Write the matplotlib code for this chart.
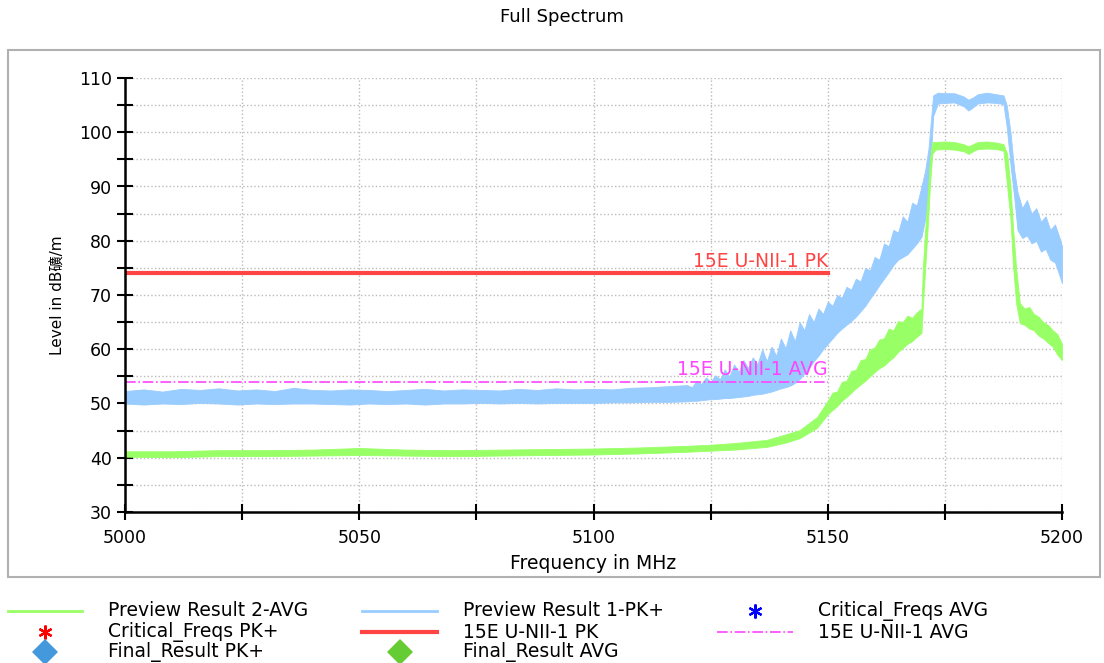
import numpy as np
import matplotlib.pyplot as plt
from matplotlib.lines import Line2D
from matplotlib.patches import Rectangle
from matplotlib.ticker import MultipleLocator

# Preview Result 1-PK+ : lower / upper envelope of the trace (MHz, dBuV/m)
pk_freq = [5000, 5004, 5008, 5012, 5016, 5020, 5024, 5028, 5032, 5036, 5040,
           5044, 5048, 5052, 5056, 5060, 5064, 5068, 5072, 5076, 5080, 5084,
           5088, 5092, 5096, 5100, 5104, 5108, 5112, 5116, 5120, 5121, 5122,
           5123, 5124, 5125, 5126, 5127, 5128, 5129, 5130, 5131, 5132, 5133,
           5134, 5135, 5136, 5137, 5138, 5139, 5140, 5141, 5142, 5143, 5144,
           5145, 5146, 5147, 5148, 5149, 5150, 5151, 5152, 5153, 5154, 5155,
           5156, 5157, 5158, 5159, 5160, 5161, 5162, 5163, 5164, 5165, 5166,
           5167, 5168, 5169, 5170, 5170.8, 5171.5, 5172.0, 5172.5, 5173.5,
           5175, 5177, 5179, 5180, 5181, 5182, 5184, 5186, 5187.5, 5188.2,
           5189, 5189.8, 5190.5, 5191.5, 5192.5, 5193.5, 5194.5, 5195.5,
           5196.5, 5197.5, 5198.5, 5199.5, 5200]
pk_lo = [50.0, 49.8, 50.0, 49.9, 50.1, 50.0, 49.8, 50.0, 49.9, 50.0, 50.0,
         49.9, 49.8, 50.0, 49.9, 50.0, 49.8, 50.0, 50.0, 50.1, 50.0, 50.1,
         50.0, 50.1, 50.1, 50.1, 50.2, 50.2, 50.3, 50.3, 50.4, 50.5, 50.5,
         50.6, 50.7, 50.8, 50.8, 50.9, 51.0, 51.0, 51.1, 51.2, 51.3, 51.4,
         51.6, 51.7, 51.8, 52.0, 52.2, 52.5, 52.8, 53.0, 53.3, 53.8, 54.5,
         55.5, 56.5, 57.8, 58.8, 60.0, 61.0, 62.0, 63.0, 63.8, 64.5, 65.2,
         66.0, 67.0, 68.0, 69.3, 70.5, 71.8, 73.0, 74.2, 75.5, 76.5, 77.0,
         77.5, 78.5, 79.5, 80.7, 84.0, 90.0, 95.0, 103.0, 105.3,
         105.4, 105.5, 104.8, 104.0, 104.6, 105.3, 105.5, 105.4, 105.2, 101.0,
         94.0, 88.0, 82.0, 80.5, 81.0, 79.5, 80.0, 78.0,
         78.5, 76.5, 76.0, 73.5, 72.2]
pk_hi = [52.3, 52.6, 52.2, 52.7, 52.5, 52.8, 52.4, 52.6, 52.3, 52.9, 52.5,
         52.4, 52.6, 52.5, 52.3, 52.5, 52.7, 52.4, 52.6, 52.5, 52.4, 52.7,
         52.5, 52.8, 52.6, 52.7, 52.6, 52.9, 53.0, 53.2, 53.4, 53.0, 54.2,
         53.6, 54.8, 54.0, 55.2, 54.5, 56.3, 55.0, 57.2, 55.8, 58.0, 56.5,
         58.5, 57.2, 60.0, 57.8, 60.5, 58.8, 62.0, 60.2, 63.5, 61.5, 65.0,
         63.5, 66.5, 65.0, 67.5, 66.5, 68.8, 68.0, 70.0, 69.5, 71.5, 71.0,
         73.0, 72.5, 75.0, 74.5, 77.0, 76.5, 79.5, 79.0, 82.0, 81.5, 84.5,
         83.5, 87.0, 86.5, 90.0, 93.0, 97.0, 102.0, 106.8, 107.3,
         107.2, 107.2, 106.6, 106.0, 106.4, 107.0, 107.3, 107.0, 106.8, 105.0,
         100.0, 93.0, 89.0, 86.0, 87.5, 85.0, 86.0, 83.5,
         84.5, 82.0, 83.0, 80.5, 79.0]

# Preview Result 2-AVG : lower / upper envelope of the trace
av_freq = [5000, 5010, 5020, 5030, 5040, 5050, 5060, 5070, 5080, 5090, 5100,
           5110, 5120, 5125, 5130, 5137, 5141, 5144, 5147.7, 5150, 5151,
           5152, 5153, 5154, 5155, 5156, 5157, 5158, 5159, 5160, 5161, 5162,
           5163, 5164, 5165, 5166, 5167, 5168, 5169, 5170, 5170.3,
           5170.8, 5171.3, 5171.8, 5172.3, 5173, 5175, 5177, 5179, 5180,
           5181, 5182, 5184, 5186, 5187.5, 5188.3, 5189, 5189.5, 5190.2,
           5191, 5192, 5193, 5194, 5195, 5196, 5197, 5198, 5199, 5200]
av_lo = [40.2, 40.1, 40.3, 40.3, 40.4, 40.5, 40.4, 40.3, 40.4, 40.5, 40.6,
         40.8, 41.1, 41.3, 41.5, 42.0, 42.8, 43.6, 45.5, 48.0, 48.8,
         49.5, 50.5, 51.2, 52.0, 52.8, 53.5, 54.2, 55.0, 55.8, 56.5, 57.0,
         57.8, 58.5, 59.5, 60.2, 61.0, 61.5, 62.3, 63.0, 68.0,
         75.0, 82.0, 90.0, 96.0, 96.8, 96.9, 96.8, 96.5, 96.0,
         96.5, 96.9, 97.0, 96.9, 96.6, 90.0, 84.0, 76.0, 68.5,
         64.8, 64.5, 63.8, 63.5, 62.5, 62.0, 61.2, 60.5, 59.0, 58.0]
av_hi = [41.2, 41.2, 41.4, 41.4, 41.5, 41.8, 41.5, 41.4, 41.5, 41.6, 41.7,
         41.9, 42.2, 42.4, 42.7, 43.3, 44.3, 45.1, 47.5, 50.5, 52.0,
         52.2, 54.0, 54.2, 56.0, 56.2, 58.0, 58.2, 60.0, 60.3, 61.8, 62.0,
         63.8, 63.5, 65.2, 65.0, 66.2, 65.8, 66.8, 67.5, 75.0,
         82.0, 88.0, 95.0, 98.2, 98.2, 98.3, 98.2, 97.8, 97.4,
         97.8, 98.2, 98.3, 98.1, 97.8, 96.0, 90.0, 83.0, 75.0,
         68.5, 67.5, 67.8, 66.5, 66.0, 65.0, 64.5, 63.5, 62.8, 61.0]

# limit lines
limit_freq = [5000, 5150]
limit_pk = [74, 74]
limit_avg = [54, 54]

BLUE = '#99ccff'
GREEN = '#99ff66'
RED = '#ff4444'
MAGENTA = '#ff44ff'

plt.rcParams['font.family'] = ['DejaVu Sans', 'Noto Sans CJK SC']

fig = plt.figure(figsize=(11.04, 6.63), dpi=100)
fig.patches.append(Rectangle((8 / 1104, 1 - 577 / 663), 1092 / 1104, 527 / 663,
                             transform=fig.transFigure, fill=False,
                             edgecolor='#b0b0b0', linewidth=1.5))

ax = fig.add_axes([125 / 1104, 1 - 512 / 663, 937 / 1104, 434 / 663])

ax.fill_between(pk_freq, pk_lo, pk_hi, color=BLUE, linewidth=0.6, edgecolor=BLUE)
ax.fill_between(av_freq, av_lo, av_hi, color=GREEN, linewidth=0.6, edgecolor=GREEN)

ax.plot(limit_freq, limit_pk, color=RED, linewidth=3)
ax.plot(limit_freq, limit_avg, color=MAGENTA, linewidth=1.2, linestyle='-.')
ax.text(5150, 74.5, '15E U-NII-1 PK', color=RED, ha='right', va='bottom', fontsize=13.5)
ax.text(5150, 54.5, '15E U-NII-1 AVG', color=MAGENTA, ha='right', va='bottom', fontsize=13.5)

ax.set_xlim(5000, 5200)
ax.set_ylim(30, 110)
ax.xaxis.set_major_locator(MultipleLocator(50))
ax.xaxis.set_minor_locator(MultipleLocator(25))
ax.yaxis.set_major_locator(MultipleLocator(10))
ax.yaxis.set_minor_locator(MultipleLocator(5))
ax.grid(True, which='both', color='#bbbbbb', linestyle=':', linewidth=1)
ax.set_axisbelow(True)
ax.tick_params(which='both', direction='inout', length=12, width=1.5, labelsize=12.5)
ax.tick_params(axis='x', pad=6)
for s in ['top', 'right']:
    ax.spines[s].set_visible(False)
for s in ['left', 'bottom']:
    ax.spines[s].set_linewidth(1.8)

ax.set_xlabel('Frequency in MHz', fontsize=13.5, labelpad=5)
ax.set_ylabel('Level in dB礦/m', fontsize=11, labelpad=10)
fig.text(562 / 1104, 1 - 17 / 663, 'Full Spectrum', ha='center', va='center', fontsize=13)

# legend below the plot frame, three columns
rows = [1 - 611 / 663, 1 - 632 / 663, 1 - 652 / 663]
star = (6, 2, 0)
entries = [
    (0, 0, 'line', dict(color=GREEN, linewidth=2), 'Preview Result 2-AVG'),
    (0, 1, 'marker', dict(marker=star, color='red', markersize=10, markeredgewidth=1.6), 'Critical_Freqs PK+'),
    (0, 2, 'marker', dict(marker='D', color='#4499dd', markersize=13, markeredgewidth=0), 'Final_Result PK+'),
    (1, 0, 'line', dict(color=BLUE, linewidth=2), 'Preview Result 1-PK+'),
    (1, 1, 'line', dict(color=RED, linewidth=3), '15E U-NII-1 PK'),
    (1, 2, 'marker', dict(marker='D', color='#66cc33', markersize=13, markeredgewidth=0), 'Final_Result AVG'),
    (2, 0, 'marker', dict(marker=star, color='blue', markersize=10, markeredgewidth=1.6), 'Critical_Freqs AVG'),
    (2, 1, 'line', dict(color=MAGENTA, linewidth=1.2, linestyle='-.'), '15E U-NII-1 AVG'),
]
handle_x = [(8, 82), (362, 437), (717, 793)]
text_x = [108, 463, 818]
for col, row, kind, style, label in entries:
    x0, x1 = handle_x[col]
    y = rows[row]
    if kind == 'line':
        fig.add_artist(Line2D([x0 / 1104, x1 / 1104], [y, y], transform=fig.transFigure, **style))
    else:
        xm = (x0 + x1) / 2 / 1104
        fig.add_artist(Line2D([xm], [y], transform=fig.transFigure, linestyle='none', **style))
    fig.text(text_x[col] / 1104, y, label, ha='left', va='center', fontsize=13.5)

fig.savefig('out.png', dpi=100)
